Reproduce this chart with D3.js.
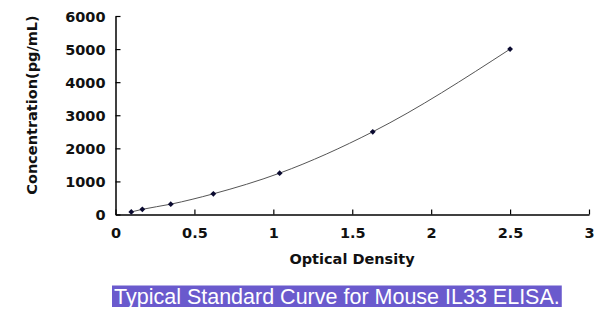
<!DOCTYPE html>
<html><head><meta charset="utf-8">
<script src="https://cdn.jsdelivr.net/npm/d3@7"></script>
<style>body{margin:0;background:#fff;}svg{display:block;}</style>
</head><body>
<svg id="c" width="600" height="334"></svg>
<script>
const odValues = [0.1, 0.17, 0.35, 0.62, 1.04, 1.63, 2.5];
const concValues = [78, 156, 312, 625, 1250, 2500, 5000];
const xTicks = [0, 0.5, 1, 1.5, 2, 2.5, 3];
const yTicks = [0, 1000, 2000, 3000, 4000, 5000, 6000];
const xLabel = "Optical Density";
const yLabel = "Concentration(pg/mL)";
const title = "Typical Standard Curve for Mouse IL33 ELISA.";

const svg = d3.select("#c");
const x = d3.scaleLinear().domain([0, 3]).range([115.5, 589]);
const y = d3.scaleLinear().domain([0, 6000]).range([214.5, 16]);
const font = "'DejaVu Sans', sans-serif";

// axes
const gx = svg.append("g").attr("transform", `translate(0,${y(0)})`)
  .call(d3.axisBottom(x).tickValues(xTicks).tickSizeInner(-5).tickSizeOuter(0).tickPadding(13)
    .tickFormat(d => String(d)));
const gy = svg.append("g").attr("transform", `translate(${x(0)},0)`)
  .call(d3.axisLeft(y).tickValues(yTicks).tickSizeInner(-5).tickSizeOuter(0).tickPadding(10)
    .tickFormat(d => String(d)));
[gx, gy].forEach(g => {
  g.select(".domain").attr("stroke", "#000").attr("stroke-width", 1.5);
  g.selectAll(".tick line").attr("stroke", "#000").attr("stroke-width", 1.2);
  g.selectAll(".tick text").attr("fill", "#111").style("font-family", font)
    .style("font-weight", "bold").style("font-size", "14.5px");
});
gy.selectAll(".tick text").attr("dy", "0.36em");

// curve
const pts = odValues.map((d, i) => [d, concValues[i]]);
svg.append("path").datum(pts)
  .attr("fill", "none").attr("stroke", "#555").attr("stroke-width", 1)
  .attr("d", d3.line().x(d => x(d[0])).y(d => y(d[1])).curve(d3.curveMonotoneX));

// markers
svg.append("g").selectAll("path").data(pts).join("path")
  .attr("transform", d => `translate(${x(d[0])},${y(d[1])}) rotate(45)`)
  .attr("d", d3.symbol().type(d3.symbolSquare).size(17))
  .attr("fill", "#0a0a30");

// axis labels
svg.append("text").attr("x", 352).attr("y", 264).attr("text-anchor", "middle")
  .style("font-family", font).style("font-weight", "bold").style("font-size", "14.5px")
  .attr("fill", "#111").text(xLabel);
svg.append("text").attr("transform", "translate(37,105) rotate(-90)").attr("text-anchor", "middle")
  .style("font-family", font).style("font-weight", "bold").style("font-size", "14.5px")
  .attr("fill", "#111").text(yLabel);

// title
const tg = svg.append("g");
const rect = tg.append("rect").attr("fill", "#6a5acd");
const tt = tg.append("text").attr("x", 114).attr("y", 303.5)
  .style("font-family", "'Liberation Sans', Arial, sans-serif").style("font-size", "21.5px")
  .attr("fill", "#fff").text(title);
const w = tt.node().getComputedTextLength();
rect.attr("x", 112).attr("y", 285.5).attr("width", w + 4).attr("height", 21.5);
</script>
</body></html>
